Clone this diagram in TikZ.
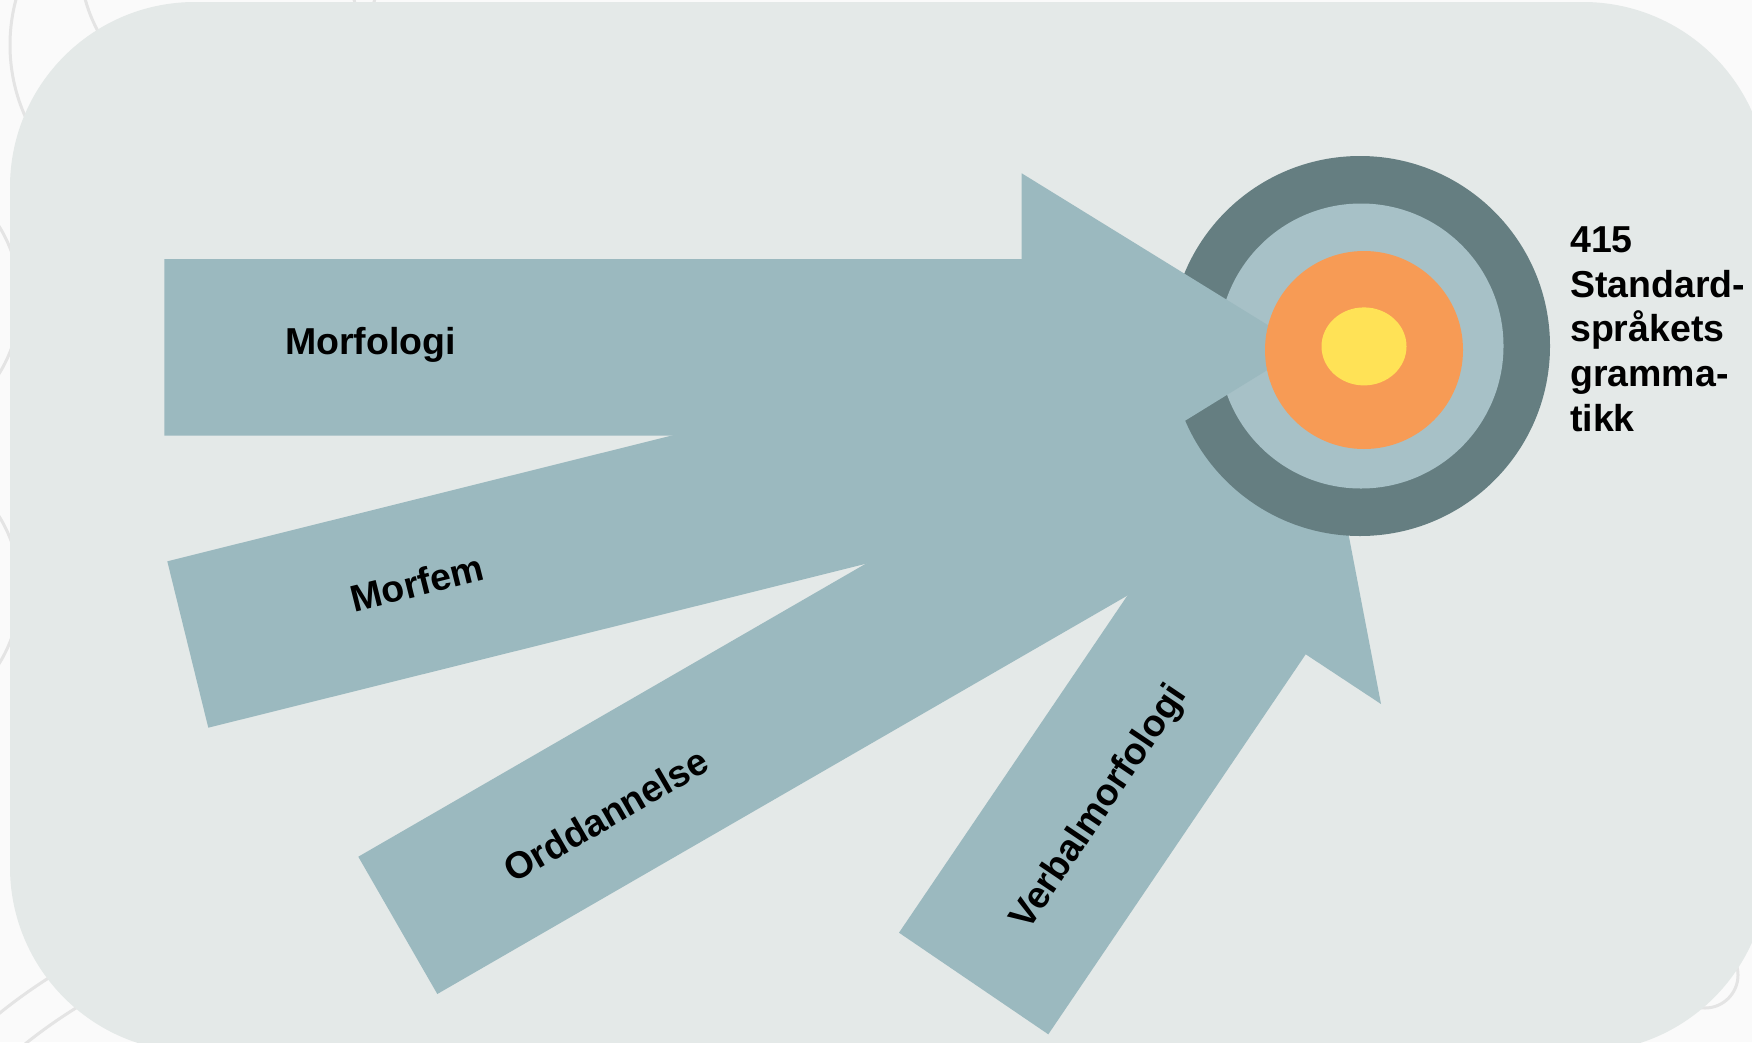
\documentclass[tikz,border=0pt]{standalone}
\usepackage{fontspec}
\setmainfont{Liberation Sans}
\definecolor{pagebg}{HTML}{FAFAFA}
\definecolor{panel}{HTML}{E4E9E8}
\definecolor{swirl}{HTML}{E4E4E4}
\definecolor{armblue}{HTML}{9BB9BF}
\definecolor{ringdark}{HTML}{657E81}
\definecolor{ringlight}{HTML}{A7C1C7}
\definecolor{core}{HTML}{F79B55}
\definecolor{kernel}{HTML}{FFE256}
\begin{document}
\begin{tikzpicture}[x=1pt,y=-1pt,
  arm/.style={fill=armblue},
  lbl/.style={font=\fontsize{37.5}{44.7}\selectfont\bfseries, inner sep=0pt}]
\useasboundingbox (0,0) rectangle (1752,1042);
\fill[pagebg] (0,0) rectangle (1752,1042);
\foreach \cx/\cy/\r in {185/45/175, 230/-40/150, -120/300/140, -120/590/140, 350/1450/560, 350/1450/520, 1705/975/33}{
\draw[swirl, line width=3pt] (\cx,\cy) circle[radius=\r];
}
\fill[panel, rounded corners=185pt] (10,2) rectangle (1768,1052);
\fill[arm] (167.3,561.3) -- (1181.3,308.5) -- (1361,346) -- (1229.1,473.2) -- (208.3,727.7) -- cycle;
\fill[arm] (358.3,856.7) -- (1185.3,379.2) -- (1361,346) -- (1281.7,506.5) -- (437.3,994) -- cycle;
\fill[arm] (899,932.7) -- (1156.4,552.7) -- (1082.2,501.4) -- (1333,453.3) -- (1381,704) -- (1305.7,654.3) -- (1048.3,1034.3) -- cycle;
\fill[ringdark] (1360,346) circle[radius=190];
\fill[ringlight] (1361,346) circle[radius=142.5];
\fill[arm] (164.3,259) -- (1021.7,259) -- (1021.7,173.3) -- (1304,347.4) -- (1021.7,521.4) -- (1021.7,435.7) -- (164.3,435.7) -- cycle;
\fill[core] (1364,350) circle[radius=99];
\fill[kernel] (1364,346.4) ellipse[x radius=42.5, y radius=39];
\node[lbl] (morfologi) at (370.5,345) {Morfologi};
\node[lbl, rotate=14] (morfem) at (417,583) {Morfem};
\node[lbl, rotate=30] (orddannelse) at (606,815) {Orddannelse};
\node[lbl, rotate=56] (verbal) at (1100,808) {Verbalmorfologi};
\node[lbl, align=left, anchor=base west] (tema) at (1570,431.3) {415\\Standard-\\språkets\\gramma-\\tikk};
\end{tikzpicture}
\end{document}
